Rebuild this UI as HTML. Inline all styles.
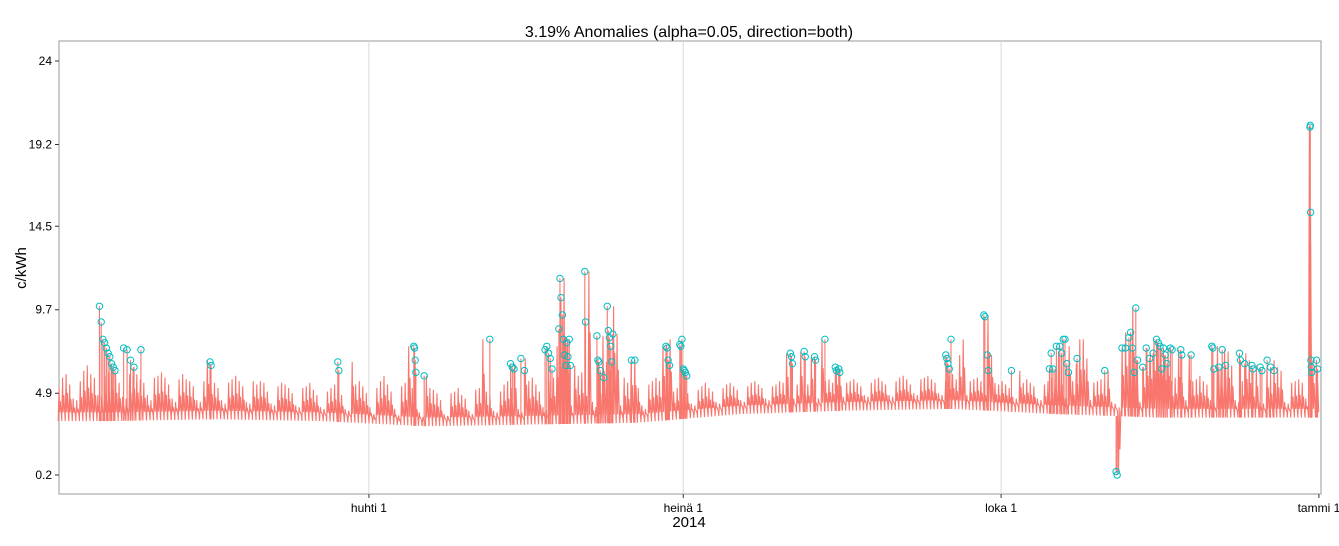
<!DOCTYPE html>
<html><head><meta charset="utf-8"><style>
body{margin:0;background:#fff;font-family:"Liberation Sans",sans-serif}
</style></head><body>
<svg id="chart" width="1339" height="541" xmlns="http://www.w3.org/2000/svg" font-family="Liberation Sans, sans-serif">
<text x="689" y="37" text-anchor="middle" font-size="16">3.19% Anomalies (alpha=0.05, direction=both)</text>
<rect x="59" y="41" width="1262" height="453" fill="#fff" stroke="#999" stroke-width="1"/>
<g id="grid"></g><g id="series"></g><g id="anoms"></g><g id="axes"></g>
<text transform="translate(26,268) rotate(-90)" text-anchor="middle" font-size="15">c/kWh</text>
<text x="689" y="527" text-anchor="middle" font-size="15">2014</text>
</svg>
<script>
const yTicks=[0.2,4.9,9.7,14.5,19.2,24];
const xTickDays=[90,181,273,365];
const xTickLabels=["huhti 1","heinä 1","loka 1","tammi 1"];
const lowsByMonth=[3.3,3.4,3.3,3.0,3.1,3.2,3.7,3.9,4.0,3.7,3.5,3.5];
const peaks=[
5.2,5.8,6.0,5.4,4.6,4.5,5.6, 6.2,6.5,6.0,5.8,4.8,4.7,5.9, 6.1,6.3,6.0,5.5,4.7,4.6,6.0, 6.4,6.0,5.7,5.5,4.8,4.5,5.8,
5.9,6.1,5.8,5.4,4.6,4.4,5.7, 6.0,5.7,5.6,5.3,4.5,4.4,5.6, 6.8,5.8,5.5,5.2,4.5,4.3,5.5, 5.7,5.9,5.6,5.3,4.4,4.3,5.6,
5.4,5.6,5.5,5.0,4.3,4.2,5.3, 5.5,5.4,5.2,4.9,4.2,4.1,5.2, 5.3,5.5,5.1,4.8,4.1,4.0,5.0, 5.2,5.4,5.2,4.8,4.0,3.9,6.7,
5.4,5.6,5.3,4.9,4.1,3.6,5.2, 5.6,5.9,5.4,5.0,4.0,3.5,5.3, 5.5,7.6,5.2,4.6,3.8,3.5,5.9, 5.2,5.1,4.9,4.5,3.7,3.6,4.9,
5.0,5.2,4.8,4.6,3.9,3.7,5.1, 5.2,8.0,5.0,4.7,3.9,3.8,5.0, 5.4,5.6,5.2,6.6,4.0,3.8,6.9, 5.6,5.8,5.4,5.0,4.1,3.9,5.6,
5.8,7.6,8.6,11.5,8.0,4.2,6.5, 5.9,6.1,5.8,11.9,4.4,4.1,6.0, 8.2,6.7,6.2,9.9,8.3,4.2,5.8, 5.5,6.8,6.8,5.2,4.2,4.0,5.4,
5.6,5.8,5.6,7.6,7.7,8.0,5.0, 5.2,5.4,5.1,4.9,4.3,4.2,5.1, 5.3,5.5,5.2,5.0,4.4,4.3,5.2, 5.4,5.5,5.3,5.1,4.5,4.4,5.3,
5.5,5.6,5.4,5.2,4.6,4.5,5.3, 5.4,5.6,5.5,7.2,4.7,4.6,5.4, 7.3,5.5,5.4,7.0,4.7,4.6,8.0, 5.6,5.7,5.5,6.4,6.3,4.7,5.5,
5.6,5.7,5.5,5.3,4.8,4.7,5.5, 5.7,5.8,5.6,5.4,4.8,4.7,5.6, 5.8,5.9,5.7,5.4,4.9,4.8,5.7, 5.8,5.9,5.7,5.5,4.9,4.8,5.6,
5.9,6.0,5.7,7.1,8.0,4.8,5.6, 5.7,5.8,5.6,5.4,9.4,7.1,5.5, 5.4,5.6,5.4,5.2,4.7,4.6,6.2, 5.5,5.7,5.5,5.3,4.6,4.5,5.4,
5.6,5.8,6.3,7.2,5.4,4.6,7.6, 5.6,6.6,8.0,8.0,6.9,4.5,5.5, 5.6,5.7,5.5,6.2,4.4,4.3,0.4, 7.5,8.4,7.5,9.8,6.8,4.4,6.4,
7.5,7.2,8.0,7.8,7.5,7.1,7.5, 5.6,5.8,7.4,5.5,4.5,7.1,5.6, 5.7,5.9,5.6,5.4,4.5,4.4,7.6, 6.4,7.4,7.3,6.5,4.5,4.4,5.6,
7.2,6.8,5.5,6.5,4.4,4.3,6.4, 5.8,6.8,6.4,6.2,4.4,4.3,5.5, 5.6,5.7,5.5,4.6,20.3,6.8,6.8
];
const anomDays=[12,12.5,13,13.5,14,14.5,15,15.5,16,16.5,19,20,21,22,24,44,44.3,81,81.3,103,103.2,103.4,103.6,106,125,131,131.5,132,134,135,
141,141.5,142,142.5,143,145,145.3,145.6,146,146.3,146.6,147,147.3,147.6,148,148.3,152.5,152.7,156,156.3,156.6,157,158,159,159.3,159.6,160,160.3,160.6,166,167,
176,176.3,176.6,177,180,180.3,180.6,181,181.3,181.6,182,212,212.3,212.6,216,216.3,219,219.3,222,225,225.3,226,226.3,257,257.3,257.6,258,258.5,268,268.3,269,269.3,276,
287,287.5,288,289,290,290.5,291,291.5,292,292.5,295,303,306.3,306.6,308,309,310,310.5,311,311.5,312,312.5,314,315,316,317,318,318.5,319,319.5,320,320.5,321,322,322.5,325,325.3,328,
334,334.3,334.6,336,337,338,342,342.3,343.5,345.6,345.9,348,348.5,350,351,352,362.4,362.5,362.6,362.7,362.8,362.9,364.3,364.6];
const anomVals=[9.9,9.0,8.0,7.8,7.5,7.2,7.0,6.6,6.4,6.2,7.5,7.4,6.8,6.4,7.4,6.7,6.5,6.7,6.2,7.6,7.5,6.8,6.1,5.9,8.0,6.6,6.4,6.3,6.9,6.2,
7.4,7.6,7.2,6.9,6.3,8.6,11.5,10.4,9.4,8.0,7.1,6.5,7.8,7.0,8.0,6.5,11.9,9.0,8.2,6.8,6.7,6.2,5.8,9.9,8.5,8.1,7.6,6.7,8.3,6.8,6.8,
7.6,7.5,6.8,6.5,7.7,7.6,8.0,6.3,6.2,6.1,5.9,7.2,7.0,6.6,7.3,7.0,7.0,6.8,8.0,6.4,6.2,6.3,6.1,7.1,6.9,6.6,6.3,8.0,9.4,9.3,7.1,6.2,6.2,
6.3,7.2,6.3,7.6,7.6,7.2,8.0,8.0,6.6,6.1,6.9,6.2,0.4,0.2,7.5,7.5,8.1,8.4,7.5,6.1,9.8,6.8,6.4,7.5,6.9,7.2,8.0,7.8,7.6,6.3,7.5,7.1,6.6,7.5,7.4,7.4,7.1,7.1,
7.6,7.5,6.3,6.4,7.4,6.5,7.2,6.8,6.6,6.5,6.3,6.4,6.2,6.8,6.4,6.2,20.2,20.3,15.3,6.8,6.4,6.1,6.8,6.3];
const NS="http://www.w3.org/2000/svg";
const DAYPX=(1319-369)/275;
const xs=d=>58+d*DAYPX;
const ys=v=>475-(v-0.2)*(414/23.8);
function lowAt(d){const m=d/30.42-0.5;const i=Math.max(0,Math.min(11,Math.floor(m)));const j=Math.min(11,i+1);const f=Math.max(0,Math.min(1,m-i));return lowsByMonth[i]*(1-f)+lowsByMonth[j]*f;}
function mk(tag,attrs,parent){const e=document.createElementNS(NS,tag);for(const k in attrs)e.setAttribute(k,attrs[k]);parent.appendChild(e);return e;}
const grid=document.getElementById('grid'),axes=document.getElementById('axes');
xTickDays.forEach((d,i)=>{
 const x=xs(d);
 if(i<xTickDays.length-1){const g=mk('line',{x1:x,x2:x,y1:41,y2:494,stroke:'#d9d9d9'},grid);
 
 }
 const t=mk('line',{x1:x,x2:x,y1:494,y2:498,stroke:'#333'},axes);
 
 
 const l=mk('text',{x:x,y:512,'text-anchor':'middle','font-size':'12'},axes);l.textContent=xTickLabels[i];
 
 
});
yTicks.forEach(v=>{
 const y=ys(v);
 const t=mk('line',{x1:55,x2:59,y1:y,y2:y,stroke:'#333'},axes);
 
 
 const l=mk('text',{x:52,y:y+4,'text-anchor':'end','font-size':'12'},axes);l.textContent=String(v);
 
 
});
const step=365/peaks.length;
let pts=[];
peaks.forEach((p,i)=>{
 const d=i*step,lo=lowAt(d);
 pts.push([xs(d+0.05*step),ys(lo)],[xs(d+0.3*step),ys(p)],[xs(d+0.45*step),ys(lo+0.5)],[xs(d+0.65*step),ys(lo+(p-lo)*0.6)],[xs(d+0.95*step),ys(lo+0.3)]);
});
const line=mk('polyline',{points:pts.map(p=>p[0].toFixed(1)+','+p[1].toFixed(1)).join(' '),fill:'none',stroke:'#f8766d','stroke-width':'1.1'},document.getElementById('series'));


const ag=document.getElementById('anoms');
anomDays.forEach((d,i)=>{
 const v=anomVals[i],x=xs(d),lo=lowAt(d);
 const s=mk('line',{x1:x,x2:x,y1:ys(lo),y2:ys(v),stroke:'#f8766d','stroke-width':'1.1'},document.getElementById('series'));
 
 
 const c=mk('circle',{cx:x,cy:ys(v),r:3.2,fill:'none',stroke:'#00bfc4','stroke-width':'1'},ag);
 
 
});
</script>
</body></html>
